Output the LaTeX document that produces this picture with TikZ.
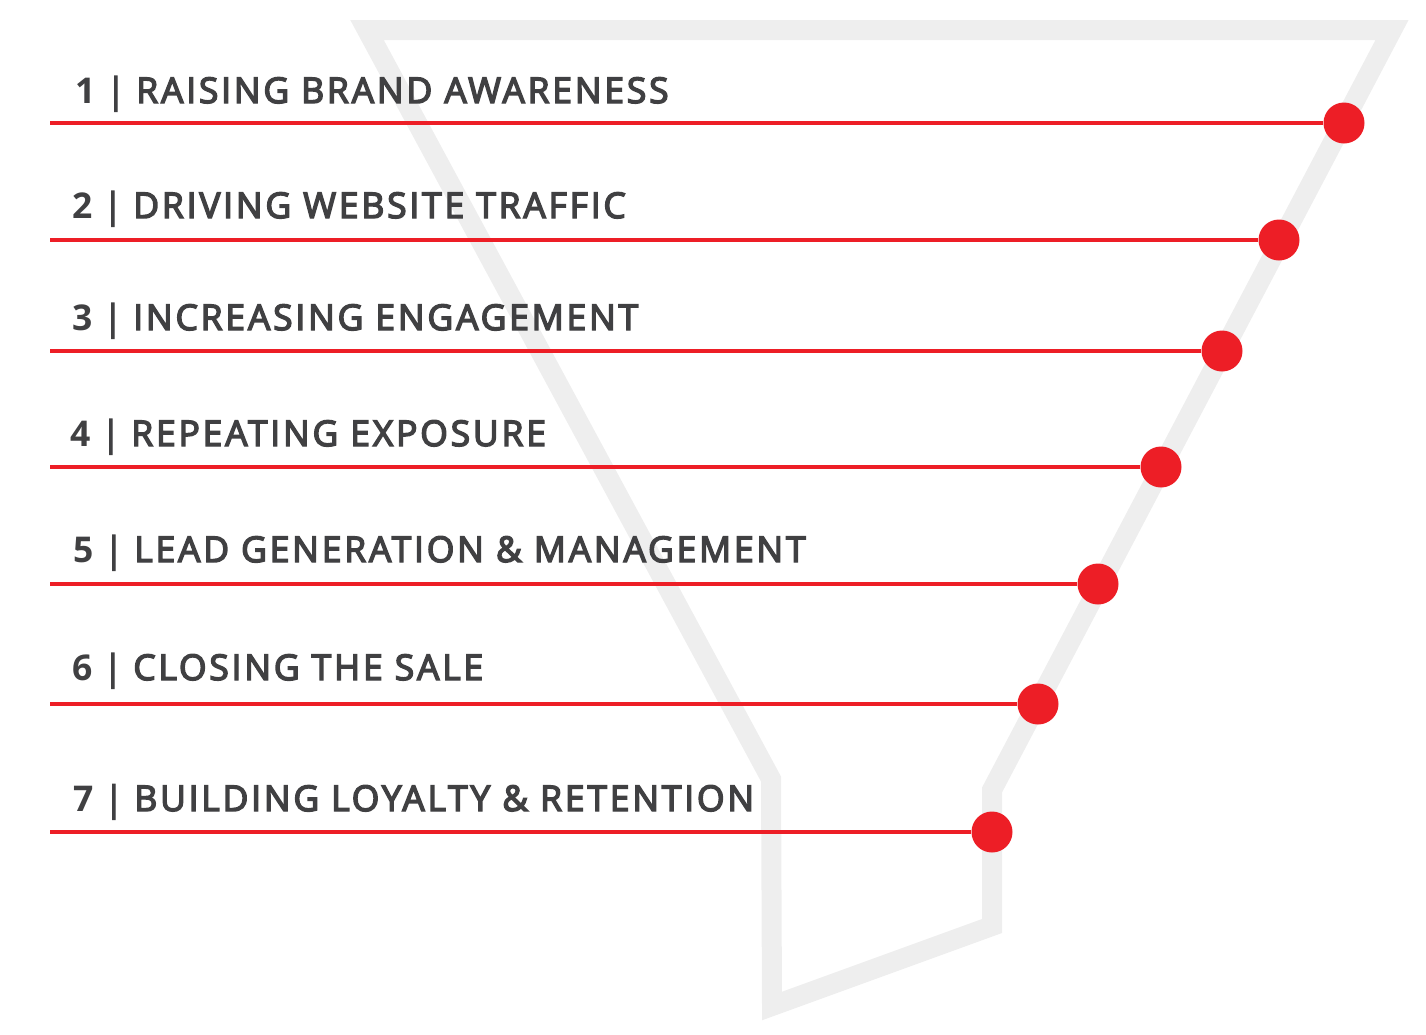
\documentclass[tikz,border=0pt]{standalone}
\usepackage{fontspec}
\setmainfont{Open Sans}[LetterSpace=4]
\newfontfamily\semifont{Open Sans}[FakeBold=4,LetterSpace=7.8]
\newfontfamily\pipefont{Open Sans}[FakeBold=3,LetterSpace=4]
\definecolor{funnelgray}{RGB}{238,238,238}
\definecolor{brandred}{RGB}{237,30,38}
\definecolor{textgray}{RGB}{64,64,66}
\begin{document}
\begin{tikzpicture}[x=1pt,y=-1pt,
  funnel/.style={line width=20pt, draw=funnelgray, line join=miter},
  redline/.style={draw=brandred, line width=3.5pt},
  reddot/.style={circle, fill=brandred, inner sep=0pt, minimum size=41pt},
  steplabel/.style={anchor=base west, inner sep=0pt, text=textgray, font=\fontsize{35.5}{40}\selectfont}]
\useasboundingbox (0,0) rectangle (1426,1034);
\draw[funnel] (367,30) -- (1392,30) -- (992,790) -- (992,926) -- (772,1006) -- (771,779) -- cycle;

\foreach \i/\ly/\dx/\tx/\ty/\txt in {
  1/123/1344/75/103/RAISING BRAND AWARENESS,
  2/240/1279/72/218/DRIVING WEBSITE TRAFFIC,
  3/351/1222/72/330/INCREASING ENGAGEMENT,
  4/467/1161/70/446/REPEATING EXPOSURE,
  5/584/1098/73/562/LEAD GENERATION \& MANAGEMENT,
  6/704/1038/72/680/CLOSING THE SALE,
  7/832/992/73/811/BUILDING LOYALTY \& RETENTION} {
  \coordinate (s\i) at (50,\ly);
  \node[reddot] (d\i) at (\dx,\ly) {};
  \draw[redline] (s\i) -- (d\i.west);
  \node[steplabel] (t\i) at (\tx,\ty) {{\bfseries \i} {\pipefont |} {\semifont \txt}};
}
\end{tikzpicture}
\end{document}
